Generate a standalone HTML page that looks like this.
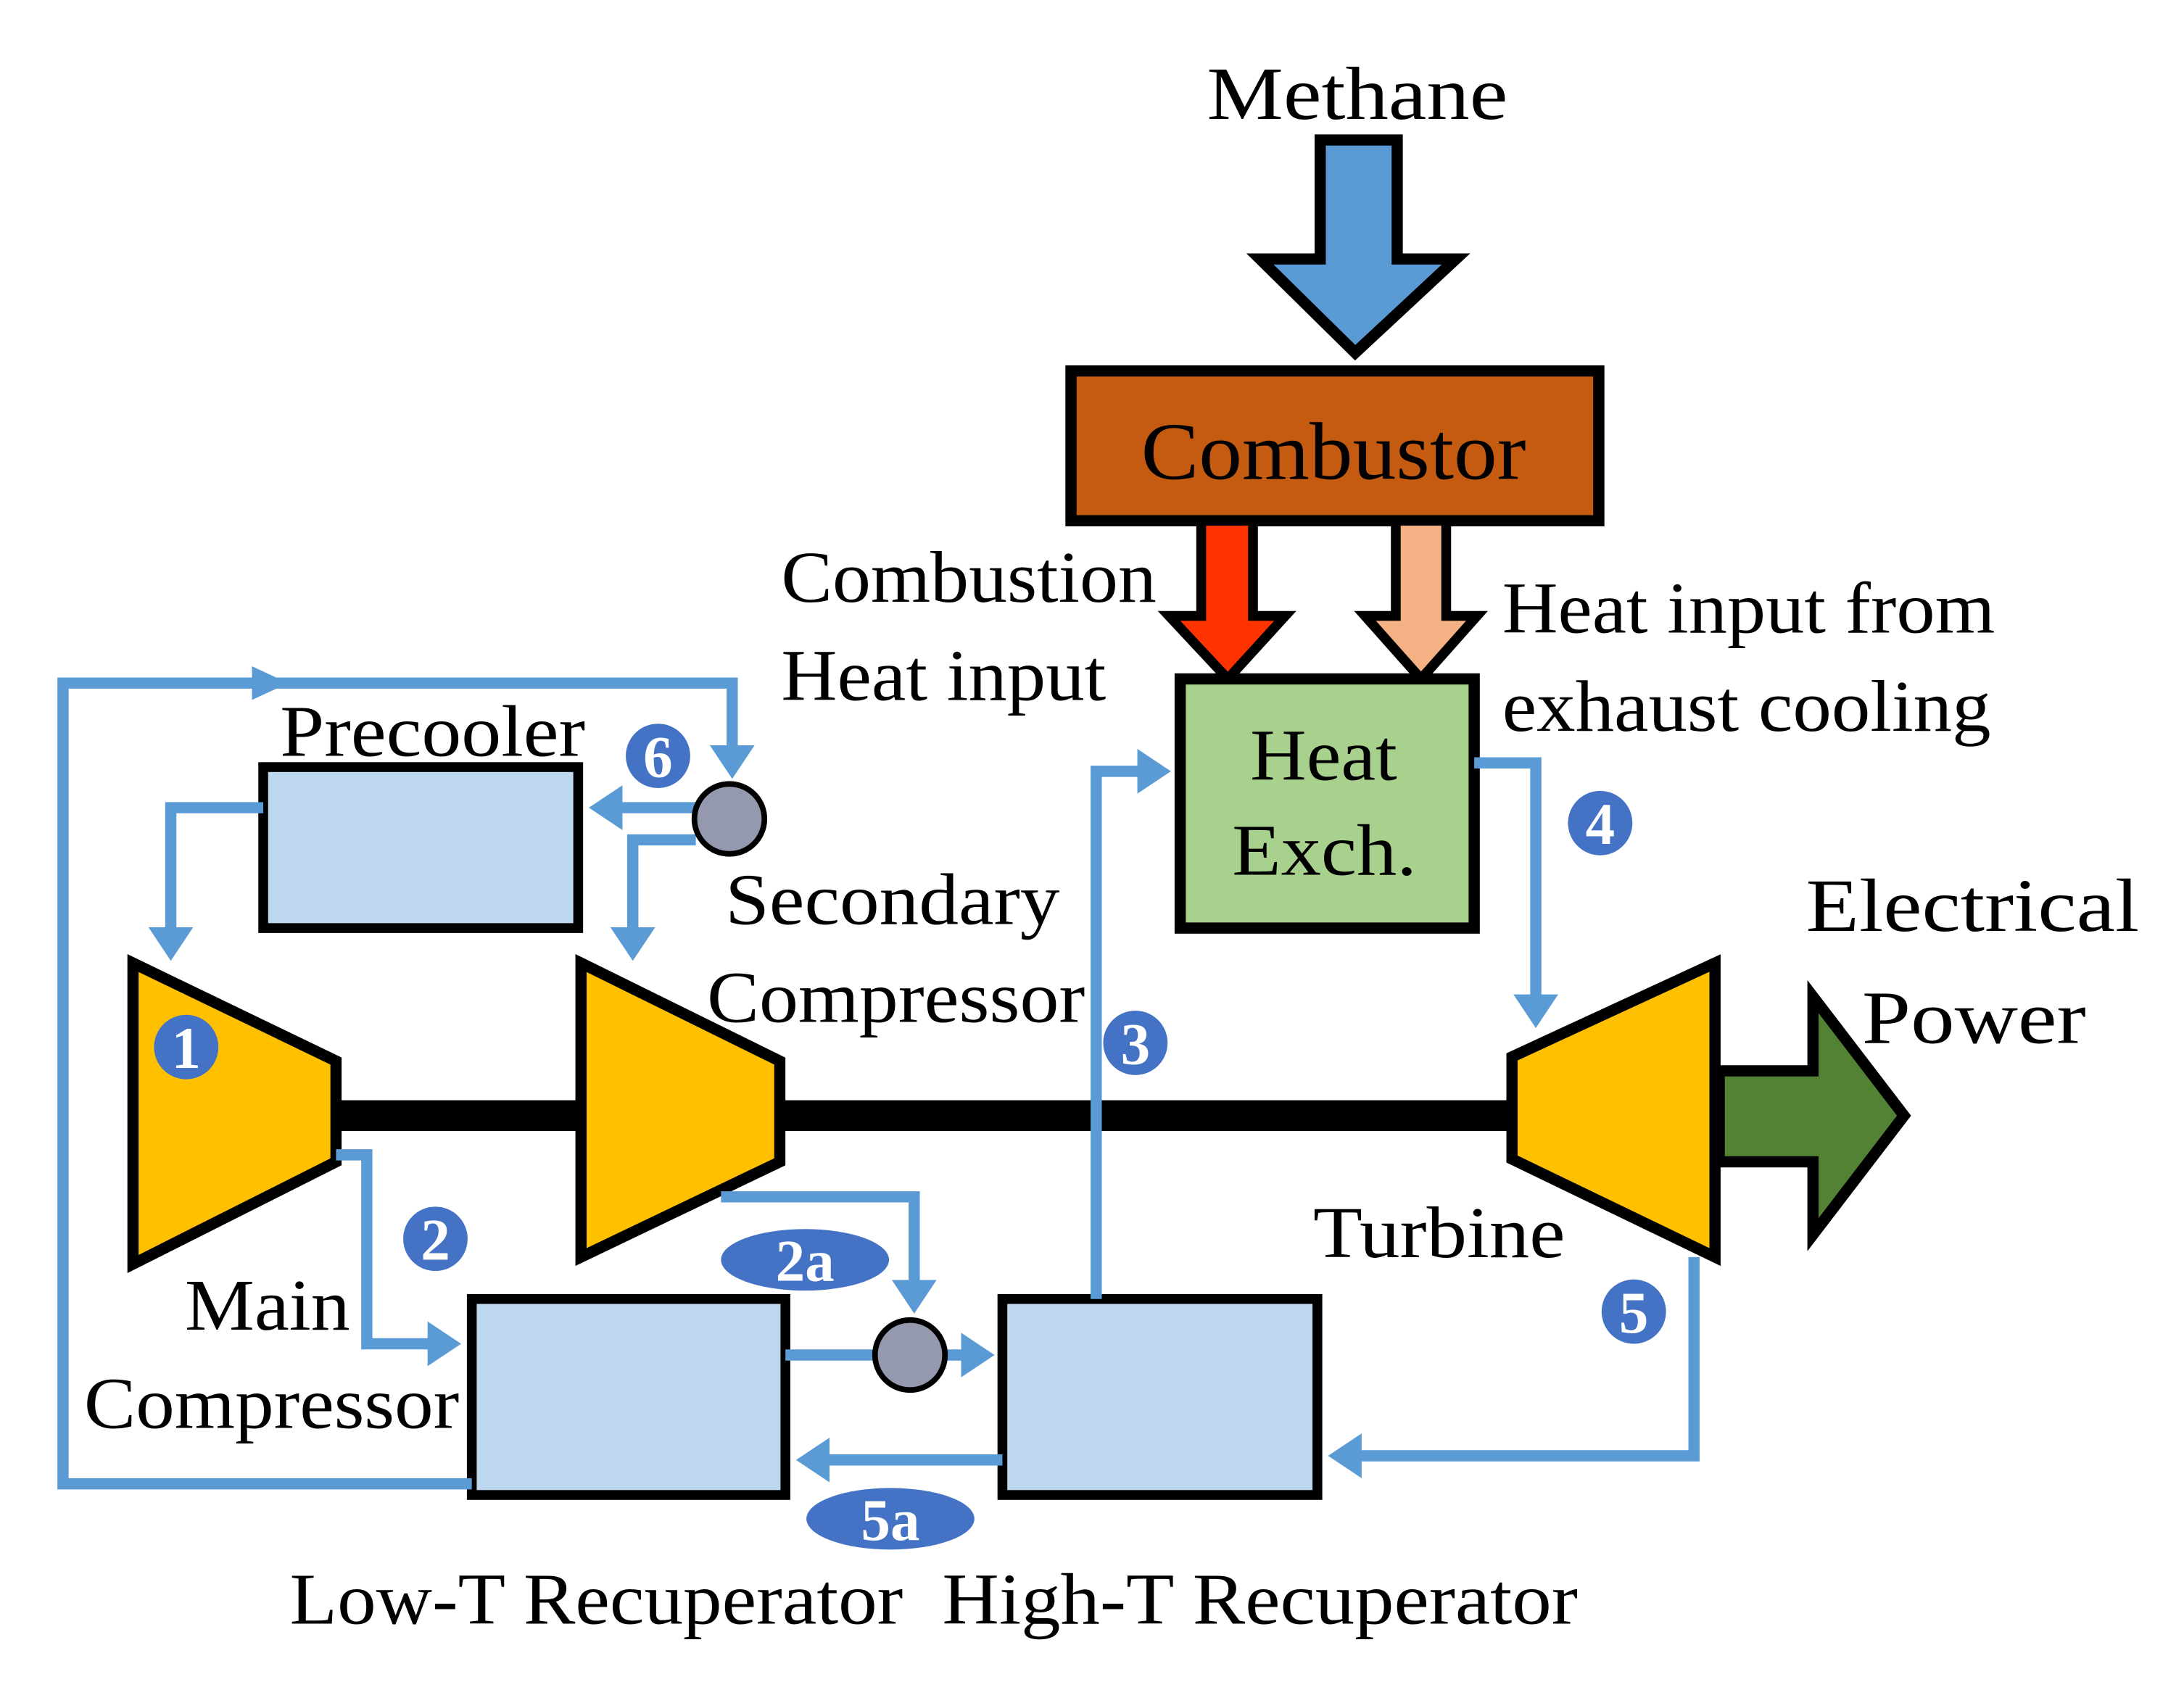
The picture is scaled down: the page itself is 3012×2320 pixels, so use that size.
<!DOCTYPE html>
<html><head><meta charset="utf-8"><style>html,body{margin:0;padding:0;background:#fff}svg{display:block}</style></head>
<body>
<svg width="3012" height="2320" viewBox="0 0 1560 1201.6" xmlns="http://www.w3.org/2000/svg" font-family="Liberation Serif, serif">
<defs>
<marker id="a" markerWidth="4" markerHeight="4" refX="2.2" refY="2" orient="auto" markerUnits="strokeWidth"><path d="M0,0 L3,2 L0,4 Z" fill="#5B9BD5"/></marker>
</defs>
<rect width="1560" height="1201.6" fill="#fff"/>
<g lengthAdjust="spacingAndGlyphs">
<text x="862" y="85" font-size="54" textLength="215" lengthAdjust="spacingAndGlyphs">Methane</text>
</g>
<polygon points="943,100 998,100 998,185 1040,185 968,252 900,185 943,185" fill="#5B9BD5" stroke="#000" stroke-width="8"/>
<rect x="765" y="265" width="377" height="107" fill="#C55A11" stroke="#000" stroke-width="8"/>
<text x="815" y="342" font-size="58" textLength="275" lengthAdjust="spacingAndGlyphs">Combustor</text>
<polygon points="858,372 895,372 895,440 918,440 877,485 835,440 858,440" fill="#FF3300" stroke="#000" stroke-width="7"/>
<polygon points="997,372 1033,372 1033,440 1055,440 1015,485 975,440 997,440" fill="#F4B183" stroke="#000" stroke-width="7"/>
<rect x="843" y="485" width="210" height="178" fill="#A9D18E" stroke="#000" stroke-width="8"/>
<text x="893" y="557" font-size="52" textLength="105" lengthAdjust="spacingAndGlyphs">Heat</text>
<text x="880" y="625" font-size="52" textLength="132" lengthAdjust="spacingAndGlyphs">Exch.</text>
<text x="558" y="430" font-size="52" textLength="268" lengthAdjust="spacingAndGlyphs">Combustion</text>
<text x="558" y="500" font-size="52" textLength="232" lengthAdjust="spacingAndGlyphs">Heat input</text>
<text x="1073" y="452" font-size="52" textLength="352" lengthAdjust="spacingAndGlyphs">Heat input from</text>
<text x="1073" y="522" font-size="52" textLength="349" lengthAdjust="spacingAndGlyphs">exhaust cooling</text>
<rect x="188" y="548" width="225" height="115" fill="#BDD7EE" stroke="#000" stroke-width="7"/>
<text x="200" y="540" font-size="52" textLength="218" lengthAdjust="spacingAndGlyphs">Precooler</text>
<rect x="240" y="786" width="840" height="22" fill="#000"/>
<polygon points="95,688 240,758 240,830 95,903" fill="#FFC000" stroke="#000" stroke-width="8"/>
<polygon points="415,688 557,758 557,830 415,898" fill="#FFC000" stroke="#000" stroke-width="8"/>
<polygon points="1080,755 1225,688 1225,898 1080,828" fill="#FFC000" stroke="#000" stroke-width="8"/>
<polygon points="1228,765 1295,765 1295,712 1360,797 1295,882 1295,830 1228,830" fill="#548235" stroke="#000" stroke-width="8"/>
<rect x="337" y="928" width="224" height="140" fill="#BDD7EE" stroke="#000" stroke-width="7"/>
<rect x="716" y="928" width="225" height="140" fill="#BDD7EE" stroke="#000" stroke-width="7"/>
<g fill="none" stroke="#5B9BD5" stroke-width="8">
<polyline points="337,1060 45,1060 45,488 186,488"/>
<polyline points="180,488 523,488 523,550" marker-end="url(#a)"/>
<line x1="497" y1="577" x2="427" y2="577" marker-end="url(#a)"/>
<polyline points="497,600 452,600 452,680" marker-end="url(#a)"/>
<polyline points="188,577 122,577 122,680" marker-end="url(#a)"/>
<polyline points="240,825 262,825 262,960 323,960" marker-end="url(#a)"/>
<polyline points="515,855 653,855 653,932" marker-end="url(#a)"/>
<line x1="561" y1="968" x2="704" y2="968" marker-end="url(#a)"/>
<polyline points="783,928 783,551 830,551" marker-end="url(#a)"/>
<polyline points="1053,545 1097,545 1097,728" marker-end="url(#a)"/>
<polyline points="1210,898 1210,1040 955,1040" marker-end="url(#a)"/>
<line x1="716" y1="1043" x2="575" y2="1043" marker-end="url(#a)"/>
</g>
<polygon points="180,476 206,488 180,500" fill="#5B9BD5"/>
<circle cx="521" cy="585" r="25" fill="#9599AE" stroke="#000" stroke-width="4"/>
<circle cx="650" cy="968" r="25" fill="#9599AE" stroke="#000" stroke-width="4"/>
<text x="518" y="660" font-size="52" textLength="239" lengthAdjust="spacingAndGlyphs">Secondary</text>
<text x="505" y="730" font-size="52" textLength="270" lengthAdjust="spacingAndGlyphs">Compressor</text>
<text x="132" y="950" font-size="52" textLength="118" lengthAdjust="spacingAndGlyphs">Main</text>
<text x="60" y="1020" font-size="52" textLength="268" lengthAdjust="spacingAndGlyphs">Compressor</text>
<text x="938" y="898" font-size="52" textLength="180" lengthAdjust="spacingAndGlyphs">Turbine</text>
<text x="1290" y="665" font-size="54" textLength="238" lengthAdjust="spacingAndGlyphs">Electrical</text>
<text x="1330" y="745" font-size="54" textLength="160" lengthAdjust="spacingAndGlyphs">Power</text>
<text x="207" y="1160" font-size="52" textLength="438" lengthAdjust="spacingAndGlyphs">Low-T Recuperator</text>
<text x="673" y="1160" font-size="52" textLength="454" lengthAdjust="spacingAndGlyphs">High-T Recuperator</text>
<g fill="#4472C4"><circle cx="133" cy="748" r="23"/><circle cx="311" cy="885" r="23"/><circle cx="811" cy="745" r="23"/><circle cx="1143" cy="588" r="23"/><circle cx="1167" cy="937" r="23"/><circle cx="470" cy="540" r="23"/><ellipse cx="575" cy="900" rx="60" ry="22"/><ellipse cx="636" cy="1085" rx="60" ry="22"/></g>
<g fill="#fff" font-weight="bold" font-size="42" text-anchor="middle">
<text x="133" y="763">1</text><text x="311" y="900">2</text><text x="811" y="760">3</text><text x="1143" y="603">4</text><text x="1167" y="952">5</text><text x="470" y="555">6</text><text x="575" y="915">2a</text><text x="636" y="1100">5a</text></g>
</svg>
</body></html>
